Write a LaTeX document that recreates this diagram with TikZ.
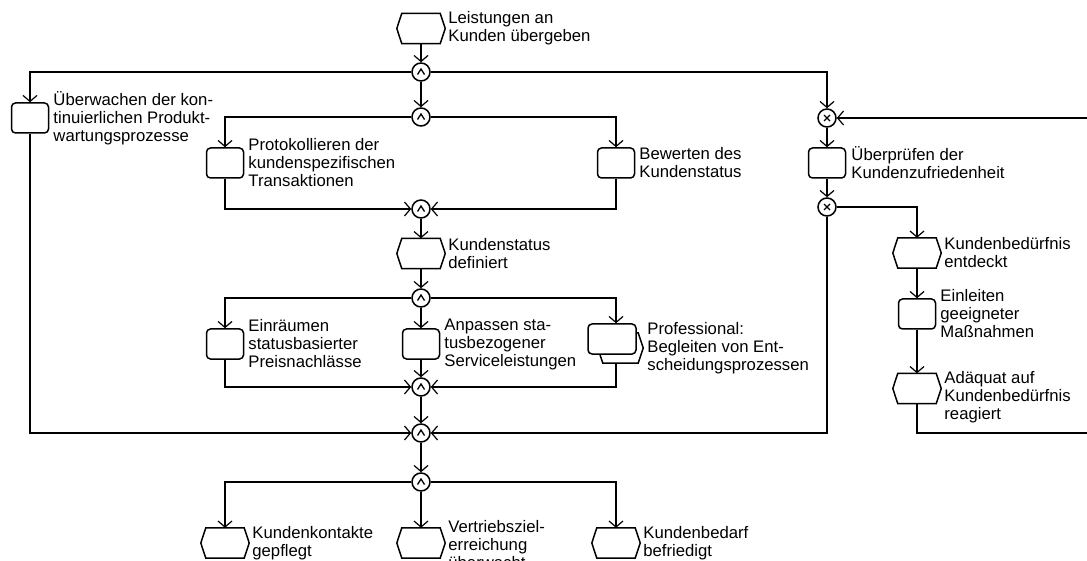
\documentclass[tikz,border=0pt]{standalone}
\usepackage{fontspec}
\setmainfont{Liberation Sans}
\usetikzlibrary{arrows.meta,calc}

\tikzset{
  flow/.style={line width=1.2pt, -{Straight Barb[length=6pt,width=14pt]}},
  fnbox/.style={draw, line width=1.5pt, rounded corners=4pt, minimum width=37pt,
    minimum height=30pt, inner sep=0pt, fill=white},
  evbox/.style={minimum width=48pt, minimum height=30pt, inner sep=0pt},
  hexline/.style={draw, line width=1.5pt, line join=miter, fill=white},
  conn/.style={circle, draw, line width=1.5pt, minimum size=18pt, inner sep=0pt, fill=white},
  symline/.style={line width=1.3pt},
  txt/.style={anchor=west, align=left, inner sep=0pt, font=\fontsize{16.7}{18}\selectfont},
}

% event: hexagon drawn around an invisible rectangle node
\newcommand\hexevent[3][5pt]{%
  \node[evbox] (#2) at (#3) {};
  \path[hexline] (#2.west) -- ([xshift=#1]#2.north west) -- ([xshift=-#1]#2.north east)
    -- (#2.east) -- ([xshift=-#1]#2.south east) -- ([xshift=#1]#2.south west) -- cycle;
}
% AND / XOR connectors
\newcommand\andconn[2]{%
  \node[conn] (#1) at (#2) {};
  \draw[symline] ([xshift=-3.5pt,yshift=-2.5pt]#1.center) -- ([yshift=3pt]#1.center)
    -- ([xshift=3.5pt,yshift=-2.5pt]#1.center);
}
\newcommand\xorconn[2]{%
  \node[conn] (#1) at (#2) {};
  \draw[symline] ([xshift=-3pt,yshift=-3pt]#1.center) -- ([xshift=3pt,yshift=3pt]#1.center);
  \draw[symline] ([xshift=-3pt,yshift=3pt]#1.center) -- ([xshift=3pt,yshift=-3pt]#1.center);
}

\begin{document}
\begin{tikzpicture}[x=1pt,y=-1pt]
\useasboundingbox[fill=white] (0,0) rectangle (1087,561);

% ---- events
\hexevent{e1}{421,28.5}
\hexevent{e2}{421,253.5}
\hexevent{e3}{917,253}
\hexevent{e4}{917,388.5}
\hexevent{e5}{225,543}
\hexevent{e6}{421,543}
\hexevent{e7}{616,543}

% ---- functions
\node[fnbox] (f1) at (30,118) {};
\node[fnbox] (f2) at (225,163) {};
\node[fnbox] (f3) at (616,163) {};
\node[fnbox] (f4) at (827,163) {};
\node[fnbox] (f5) at (225,344) {};
\node[fnbox] (f6) at (421,344) {};
\node[fnbox] (f8) at (917,314) {};
% process interface: event behind a function
\node[evbox, minimum width=45pt] (f7b) at (620.5,348) {};
\path[hexline] (f7b.west) -- ([xshift=5pt]f7b.north west) -- ([xshift=-5pt]f7b.north east)
  -- (f7b.east) -- ([xshift=-5pt]f7b.south east) -- ([xshift=5pt]f7b.south west) -- cycle;
\node[fnbox, minimum width=48pt] (f7) at (612,339) {};

% ---- connectors
\andconn{c1}{421,72}
\andconn{c2}{421,117}
\andconn{c3}{421,209}
\andconn{c4}{421,298}
\andconn{c5}{421,387}
\andconn{c6}{421,433}
\andconn{c7}{421,482}
\xorconn{x1}{827,118}
\xorconn{x2}{827,207}

\coordinate (loopA) at (1092,433);
\coordinate (loopB) at (1092,118);

% ---- control flow
\draw[flow] (e1) -- (c1);
\draw[flow] (c1.west) -| (f1.north);
\draw[flow] (c1.east) -| (x1.north);
\draw[flow] (c1) -- (c2);
\draw[flow] (c2.west) -| (f2.north);
\draw[flow] (c2.east) -| (f3.north);
\draw[flow] (f2.south) |- (c3.west);
\draw[flow] (f3.south) |- (c3.east);
\draw[flow] (c3) -- (e2);
\draw[flow] (e2) -- (c4);
\draw[flow] (c4.west) -| (f5.north);
\draw[flow] (c4) -- (f6);
\draw[flow] (c4.east) -| ([xshift=4pt]f7.north);
\draw[flow] (f5.south) |- (c5.west);
\draw[flow] (f6) -- (c5);
\draw[flow] ([xshift=-4.5pt]f7b.south) |- (c5.east);
\draw[flow] (c5) -- (c6);
\draw[flow] (f1.south) |- (c6.west);
\draw[flow] (x2.south) |- (c6.east);
\draw[flow] (c6) -- (c7);
\draw[flow] (c7.west) -| (e5.north);
\draw[flow] (c7) -- (e6);
\draw[flow] (c7.east) -| (e7.north);
\draw[flow] (x1) -- (f4);
\draw[flow] (f4) -- (x2);
\draw[flow] (x2.east) -| (e3.north);
\draw[flow] (e3) -- (f8);
\draw[flow] (f8) -- (e4);
\draw[flow] (e4.south) |- (loopA) -- (loopB) -- (x1.east);

% ---- labels
\node[txt] (te1) at ([xshift=3pt]e1.east) {Leistungen an\\Kunden übergeben};
\node[txt] (tf1) at ([xshift=4pt]f1.east) {Überwachen der kon-\\tinuierlichen Produkt-\\wartungsprozesse};
\node[txt] (tf2) at ([xshift=4pt]f2.east) {Protokollieren der\\kundenspezifischen\\Transaktionen};
\node[txt] (tf3) at ([xshift=4pt]f3.east) {Bewerten des\\Kundenstatus};
\node[txt] (tf4) at ([xshift=5pt]f4.east) {Überprüfen der\\Kundenzufriedenheit};
\node[txt] (te2) at ([xshift=3pt]e2.east) {Kundenstatus\\definiert};
\node[txt] (tf5) at ([xshift=4pt]f5.east) {Einräumen\\statusbasierter\\Preisnachlässe};
\node[txt] (tf6) at ([xshift=4pt]f6.east) {Anpassen sta-\\tusbezogener\\Serviceleistungen};
\node[txt] (tf7) at ([xshift=4pt]f7b.east) {Professional:\\Begleiten von Ent-\\scheidungsprozessen};
\node[txt] (te3) at ([xshift=3pt]e3.east) {Kundenbedürfnis\\entdeckt};
\node[txt] (tf8) at ([xshift=4pt]f8.east) {Einleiten\\geeigneter\\Maßnahmen};
\node[txt] (te4) at ([xshift=3pt,yshift=-9pt]e4.east) {Adäquat auf\\Kundenbedürfnis\\reagiert};
\node[txt] (te5) at ([xshift=3pt]e5.east) {Kundenkontakte\\gepflegt};
\node[txt] (te6) at ([xshift=3pt,yshift=-2pt]e6.east) {Vertriebsziel-\\erreichung\\überwacht};
\node[txt] (te7) at ([xshift=3pt]e7.east) {Kundenbedarf\\befriedigt};
\end{tikzpicture}
\end{document}
